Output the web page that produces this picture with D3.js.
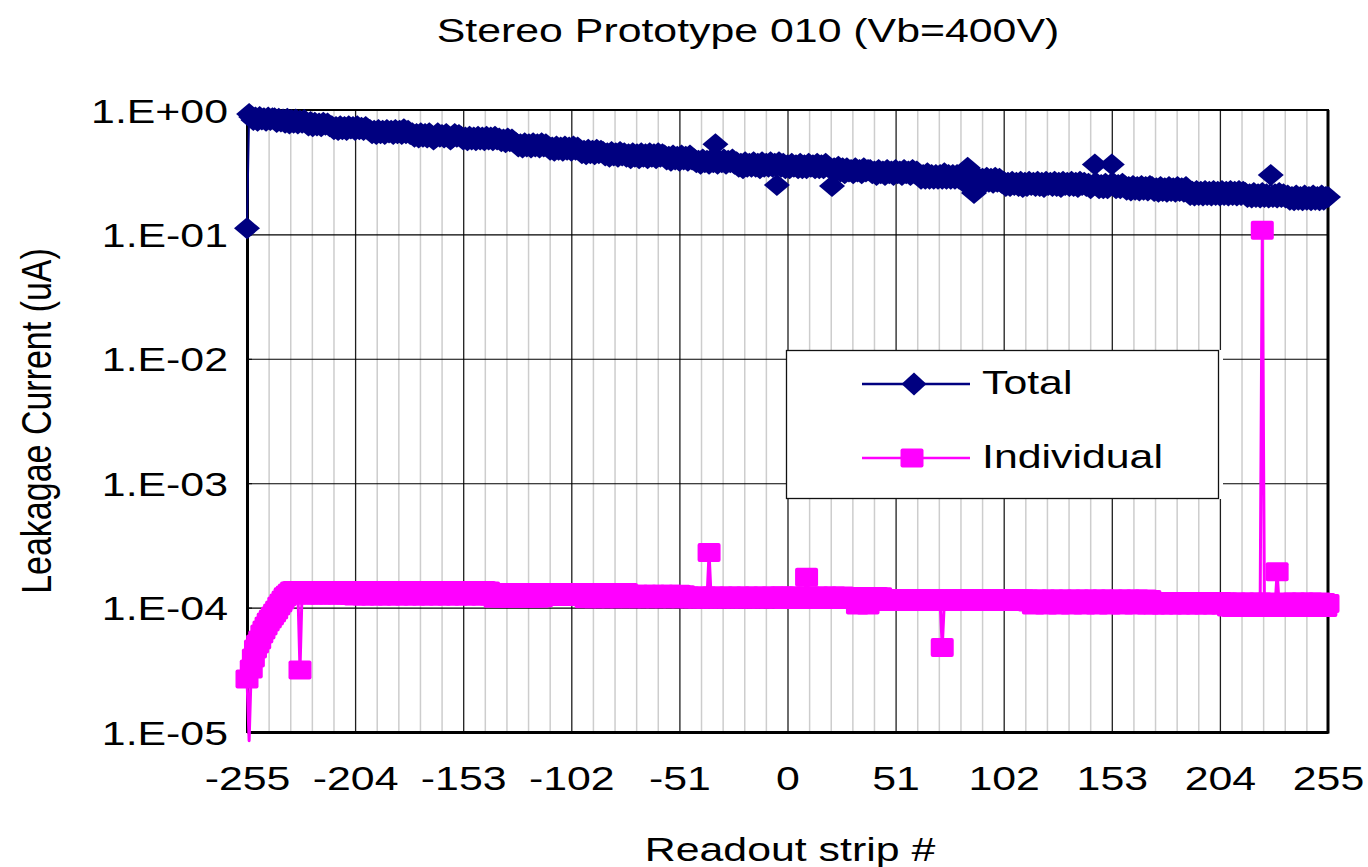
<!DOCTYPE html>
<html>
<head>
<meta charset="utf-8">
<script src="https://cdn.jsdelivr.net/npm/d3@7"></script>
<style>
  html, body { margin: 0; padding: 0; background: #fff; }
  svg { display: block; }
  text { font-family: "Liberation Sans", Arial, Helvetica, sans-serif; fill: #000; }
</style>
</head>
<body>
<svg id="chart" width="1368" height="867"></svg>
<script>
// ---- chart text ----
const chartTitle = "Stereo Prototype 010 (Vb=400V)";
const xTitle = "Readout strip #";
const yTitle = "Leakagae Current (uA)";
const seriesNames = ["Total", "Individual"];

// ---- axes ----
const firstStrip = -255;
const xTickValues = [-255, -204, -153, -102, -51, 0, 51, 102, 153, 204, 255];
const xMinorStep = 10.2;
const yTickValues = [1e-5, 1e-4, 1e-3, 1e-2, 1e-1, 1];
const yTickLabels = ["1.E-05", "1.E-04", "1.E-03", "1.E-02", "1.E-01", "1.E+00"];

// ---- Total leakage current per strip, in nA (strip -255 .. 255) ----
const totalNA = [
  112, 930,
  880, 830, 870, 820, 880, 840, 860, 820, 870, 830, 860,
  860, 800, 850, 810,
  840, 790, 850, 780, 830, 790, 840, 780, 820, 790, 830,
  790, 750, 800, 740, 790, 750, 780, 740, 790, 760, 780, 740,
  740, 700, 730, 690, 740, 700, 730, 690, 740, 710, 730, 690, 740, 700, 720, 690, 730, 700,
  690, 650, 680, 640, 690, 650, 680, 640, 690, 660, 680, 640, 690, 650, 680, 640, 700, 650, 680, 640,
  650, 610, 640, 600, 650, 610, 640, 600, 650, 620, 580, 600, 650, 610, 630, 600, 640, 610, 580, 600, 640, 610, 630,
  610, 580, 600, 570, 610, 580, 600, 570, 610, 580, 600, 570, 610, 580, 600, 570, 610, 580,
  590, 560, 580, 550, 590, 560, 580, 550,
  540, 510, 530, 500, 540, 510, 530, 500, 540, 510, 530, 500, 540, 510, 530,
  510, 480, 500, 470, 510, 480, 500, 470, 510, 480, 500, 470, 510, 480, 500,
  480, 450, 470, 440, 480, 450, 470, 440, 480, 450, 470,
  460, 430, 450, 420, 460, 430, 450, 420, 460, 430,
  450, 420, 440, 410, 450, 420, 440, 410, 450, 420, 440, 410, 450, 420, 440, 410, 450, 420, 440,
  430, 400, 420, 390, 430, 400, 420, 390, 430, 400, 420, 390, 430, 400,
  400, 380, 390, 370, 400, 380, 390, 370, 400, 380, 530, 370, 390, 380, 400, 370, 390, 380, 400, 370,
  380, 350, 370, 340, 380, 350, 370, 350, 380, 350, 370, 340, 380, 350, 370, 350, 380, 350, 370, 250, 380, 350,
  370, 340, 360, 340, 370, 350, 360, 340, 370, 340, 360, 340, 370, 350, 360, 340, 370, 340, 360, 340, 370, 350,
  340, 245, 340, 320, 350, 320, 340, 310, 340, 320, 330, 310, 340, 320, 330, 310, 340, 320, 330,
  330, 310, 320, 300, 330, 310, 320, 300, 330, 310, 320, 300, 330, 310, 320, 300, 330, 310, 320, 300, 330, 310, 320,
  300, 280, 300, 280, 310, 280, 300, 280, 300, 280, 300, 280, 310, 280, 300, 280, 300, 280, 300, 280,
  285, 265, 280, 343, 285, 265, 215, 260, 285, 265, 280, 260, 285, 265, 280, 260, 285, 265, 280, 260,
  265, 245, 260, 245, 265, 250, 260, 245, 265, 240, 260, 245, 265, 250, 260, 245, 265, 245, 260, 240,
  265, 250, 260, 245, 265, 245, 260, 240, 265, 250, 260, 245, 265, 245, 260, 240, 265, 250, 260, 245,
  255, 235, 250, 365, 255, 235, 250, 235, 255, 235, 250, 365, 255, 235, 250, 235, 255,
  245, 228, 240, 225, 245, 228, 240, 225, 245, 228, 240, 225, 245,
  240, 223, 235, 220, 240, 223, 235, 220, 240, 223, 235, 220, 240, 223, 235, 220, 240,
  223, 207, 220, 205, 223, 207, 220, 205, 223, 207, 220, 205, 223, 207, 220, 205, 223, 207, 220, 205, 223, 207, 220, 205, 223, 207, 220,
  215, 200, 210, 198, 215, 200, 210, 198, 215, 200, 210, 198, 300, 200, 210, 198, 215, 200, 210, 198,
  205, 190, 200, 188, 205, 190, 200, 188, 205, 190, 200, 188, 205, 190, 200, 188, 205, 190, 200, 200
];

// ---- Individual strip leakage current, in pA (strip -255 .. 255) ----
const individualPA = [
  26.7, 8.5,
  32.1, 39.4, 46.5, 51, 54.9, 61.4, 66.1, 71.2, 76.6, 81, 85.6, 90.5, 95.7, 103, 109, 115, 122, 126, 131, 136,
  137, 127, 136, 31.5, 137, 126, 136, 127, 137, 126, 136, 127, 137, 126, 136, 127, 137, 126, 136, 127, 137, 126, 136, 127, 137, 126,
  137, 125, 136, 124, 137, 125, 136, 124, 137, 125,
  136, 124, 137, 125, 136, 124, 137, 125, 136, 124,
  137, 125, 136, 124, 137, 125, 136, 124, 137, 125,
  136, 124, 137, 125, 136, 124, 137, 125, 136, 124,
  137, 125, 136, 124, 137, 125, 136, 124, 137, 125,
  136, 124, 137, 125, 136, 124, 137, 125, 136, 124,
  137, 125, 136, 124, 137, 125, 136, 124,
  132, 119, 131, 120, 132, 119, 131, 120, 132, 119, 131, 120, 132, 119, 131, 120, 132, 119, 131, 120, 132, 119, 131, 120,
  132, 123, 131, 124, 132, 123, 131, 124, 132, 123, 131, 124, 132, 123, 131, 124, 132, 123, 131,
  132, 118, 131, 119, 132, 118, 131, 119, 132, 118, 131, 119, 132, 118, 131, 119, 132, 118, 131, 119, 132,
  128, 118, 127, 119, 128, 118, 127, 119, 128, 118, 127, 119, 128, 118, 127, 119, 128, 118, 127, 119, 128, 118, 127, 119, 128, 118, 127, 119,
  124, 117, 123, 118, 124, 117, 123, 118, 124, 117,
  277, 117, 124, 118, 123, 117, 124, 118, 123, 117,
  124, 118, 123, 117, 124, 118, 123, 117, 124, 118,
  123, 117, 124, 118, 123, 117, 124, 118, 123, 117,
  124, 118, 123, 117, 124,
  124, 116, 123, 117, 124, 116, 123, 117, 124, 116,
  123, 175, 124, 116, 123, 117, 124, 116, 123, 117,
  124, 116, 123, 117, 124, 116, 123, 117, 124, 116,
  123, 117,
  123, 116, 122, 105, 123, 116, 122, 117, 105, 116, 122, 117, 123, 116, 122,
  118, 112, 117, 113, 118, 112, 117, 113, 118, 112,
  117, 113, 118, 112, 117, 113, 118, 112, 117, 113,
  118, 112, 117, 113, 118, 112, 117, 113, 47.8, 112,
  118, 112, 117, 113, 118, 112, 117, 113, 118, 112,
  117, 113, 118, 112, 117, 113, 118, 112, 117, 113,
  118, 112, 117, 113, 118, 112, 117, 113, 118, 112,
  117, 113, 118, 112, 117, 113, 118, 112,
  117, 111, 116, 105, 117, 111, 116, 112, 117, 105,
  116, 111, 117, 112, 116, 105, 117, 111, 116, 112,
  117, 105, 116, 111, 117, 112, 116, 105, 117, 111,
  116, 112, 117, 105, 116, 111, 117, 112, 116, 105,
  117, 111, 116, 112, 117, 105, 116, 111, 117, 112,
  116, 105, 117, 111, 116, 112, 117, 105, 116,
  112, 105, 111, 106, 112, 105, 111, 106, 112, 105,
  111, 106, 112, 105, 111, 106, 112, 105, 111, 106,
  112, 105, 111, 106, 112, 105, 111, 106, 112, 105,
  111, 106, 112, 105, 111,
  111, 101, 110, 100, 111, 101, 110, 100, 111, 101,
  110, 100, 111, 101, 110, 100, 111, 108000, 110, 100,
  111, 101, 110, 100, 194, 101, 110, 100, 111, 101,
  110, 100, 111, 101, 110, 100, 111, 101, 110, 100,
  111, 101, 110, 100, 111, 101, 110, 100, 108
];

// ---- layout ----
const W = 1368, H = 867;
const plot = { left: 247, right: 1328, top: 110, bottom: 732 };
const TX = 1.26;               // horizontal stretch of the lettering
const FS = 34;                 // font size, px
const navy = "#000080", magenta = "#FF00FF";

const svg = d3.select("#chart");
svg.append("rect").attr("width", W).attr("height", H).attr("fill", "#fff");

const x = d3.scaleLinear().domain([xTickValues[0], xTickValues[xTickValues.length - 1]])
  .range([plot.left, plot.right]);
const y = d3.scaleLog().domain([yTickValues[0], yTickValues[yTickValues.length - 1]])
  .range([plot.bottom, plot.top]);

const strips = totalNA.map((_, i) => firstStrip + i);
const total = totalNA.map(v => v / 1e3);          // uA
const individual = individualPA.map(v => v / 1e6); // uA

// ---- gridlines ----
const minorTicks = d3.range(1, 50).filter(k => k % 5 !== 0)
  .map(k => xTickValues[0] + k * xMinorStep);
svg.append("g").attr("transform", `translate(0,${plot.bottom})`)
  .call(d3.axisBottom(x).tickValues(minorTicks).tickSize(-(plot.bottom - plot.top)).tickFormat(""))
  .call(g => g.select(".domain").remove())
  .call(g => g.selectAll("line").attr("stroke", "#cdcdcd").attr("stroke-width", 1.5));

svg.append("g").attr("transform", `translate(0,${plot.bottom})`)
  .call(d3.axisBottom(x).tickValues(xTickValues.slice(1, -1)).tickSize(-(plot.bottom - plot.top)).tickFormat(""))
  .call(g => g.select(".domain").remove())
  .call(g => g.selectAll("line").attr("stroke", "#1e1e1e").attr("stroke-width", 1.3));

svg.append("g").attr("transform", `translate(${plot.left},0)`)
  .call(d3.axisLeft(y).tickValues(yTickValues).tickSize(-(plot.right - plot.left)).tickFormat(""))
  .call(g => g.select(".domain").remove())
  .call(g => g.selectAll("line").attr("stroke", "#000").attr("stroke-width", 1.1));

// ---- plot frame ----
svg.append("rect")
  .attr("x", plot.left).attr("y", plot.top)
  .attr("width", plot.right - plot.left).attr("height", plot.bottom - plot.top)
  .attr("fill", "none").attr("stroke", "#000").attr("stroke-width", 2);
svg.append("line").attr("x1", plot.right).attr("x2", plot.right)
  .attr("y1", plot.top).attr("y2", plot.bottom + 1.5)
  .attr("stroke", "#000").attr("stroke-width", 3);

// ---- axes ----
const yAxis = svg.append("g").attr("transform", `translate(${plot.left},0)`)
  .call(d3.axisLeft(y).tickValues(yTickValues).tickFormat((d, i) => yTickLabels[i])
    .tickSizeInner(-5).tickSizeOuter(0));
yAxis.select(".domain").attr("stroke", "#000").attr("stroke-width", 3);
yAxis.selectAll(".tick line").attr("stroke", "#000");
yAxis.selectAll(".tick text")
  .attr("x", -19 / TX).attr("dy", null).attr("y", 12)
  .attr("transform", `scale(${TX},1)`).attr("font-size", FS).attr("text-anchor", "end");

const xAxis = svg.append("g").attr("transform", `translate(0,${plot.bottom})`)
  .call(d3.axisBottom(x).tickValues(xTickValues).tickFormat(d => String(d))
    .tickSize(0).tickSizeOuter(0));
xAxis.select(".domain").attr("stroke", "#000").attr("stroke-width", 3);
xAxis.selectAll(".tick text")
  .attr("y", 58).attr("dy", null)
  .attr("transform", `scale(${TX},1)`).attr("font-size", FS);

// ---- series ----
const line = d3.line().x(d => x(d[0])).y(d => y(d[1]));
const inDomain = v => v >= yTickValues[0] && v <= yTickValues[yTickValues.length - 1];
const diamond = (hw, hh) => `M0,${-hh}L${hw},0L0,${hh}L${-hw},0Z`;

const totalPts = strips.map((s, i) => [s, total[i]]);
const indivPts = strips.map((s, i) => [s, individual[i]]);

svg.append("path").datum(totalPts).attr("d", line)
  .attr("fill", "none").attr("stroke", navy).attr("stroke-width", 2).attr("stroke-linejoin", "round");
svg.append("g").selectAll("path").data(totalPts.filter(d => inDomain(d[1]))).join("path")
  .attr("transform", d => `translate(${x(d[0])},${y(d[1])})`)
  .attr("d", diamond(13, 11)).attr("fill", navy);

svg.append("path").datum(indivPts).attr("d", line)
  .attr("fill", "none").attr("stroke", magenta).attr("stroke-width", 3).attr("stroke-linejoin", "round");
svg.append("g").selectAll("rect").data(indivPts.filter(d => inDomain(d[1]))).join("rect")
  .attr("x", d => x(d[0]) - 11.5).attr("y", d => y(d[1]) - 9.5)
  .attr("width", 23).attr("height", 19).attr("rx", 2).attr("fill", magenta);

// ---- legend ----
const legend = svg.append("g");
legend.append("rect").attr("x", 786).attr("y", 350).attr("width", 437).attr("height", 149).attr("fill", "#fff");
legend.append("rect").attr("x", 786.5).attr("y", 350.5).attr("width", 432).attr("height", 148)
  .attr("fill", "none").attr("stroke", "#111").attr("stroke-width", 1.3);
const legendRows = [
  { name: seriesNames[0], color: navy, cy: 384, width: 2.5 },
  { name: seriesNames[1], color: magenta, cy: 458, width: 2.5 }
];
legendRows.forEach((r, i) => {
  legend.append("line").attr("x1", 862).attr("x2", 970).attr("y1", r.cy).attr("y2", r.cy)
    .attr("stroke", r.color).attr("stroke-width", r.width);
  if (i === 0) {
    legend.append("path").attr("transform", `translate(914,${r.cy})`)
      .attr("d", diamond(12.5, 11.5)).attr("fill", r.color);
  } else {
    legend.append("rect").attr("x", 912 - 11.5).attr("y", r.cy - 9.5)
      .attr("width", 23).attr("height", 19).attr("rx", 2).attr("fill", r.color);
  }
  legend.append("text").attr("transform", `translate(982,${r.cy + 10}) scale(${TX},1)`)
    .attr("font-size", FS).text(r.name);
});

// ---- titles ----
svg.append("text").attr("transform", `translate(748,42) scale(${TX},1)`)
  .attr("text-anchor", "middle").attr("font-size", FS).text(chartTitle);
svg.append("text").attr("transform", `translate(790,861) scale(${TX},1)`)
  .attr("text-anchor", "middle").attr("font-size", FS).text(xTitle);
svg.append("text").attr("transform", `translate(51,421) scale(${TX},1) rotate(-90)`)
  .attr("text-anchor", "middle").attr("font-size", FS).text(yTitle);
</script>
</body>
</html>
